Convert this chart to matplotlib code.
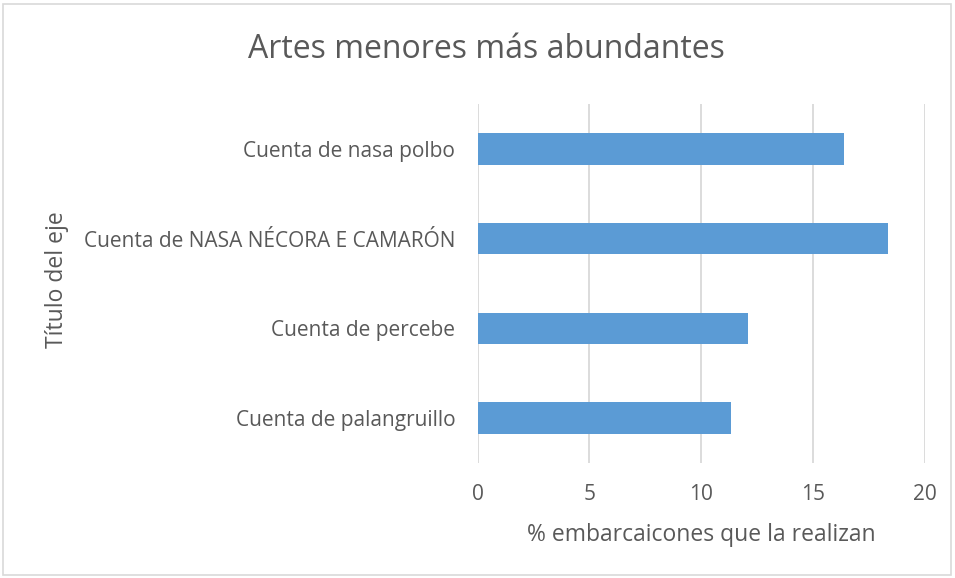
import matplotlib
matplotlib.use("Agg")
import matplotlib.pyplot as plt
from matplotlib.patches import Rectangle

categories = ["Cuenta de palangruillo", "Cuenta de percebe",
              "Cuenta de NASA NÉCORA E CAMARÓN", "Cuenta de nasa polbo"]
values = [11.34, 12.12, 18.37, 16.40]
xticks = [0, 5, 10, 15, 20]

plt.rcParams['font.family'] = ['Open Sans', 'DejaVu Sans']
txt = '#595959'

fig = plt.figure(figsize=(9.55, 5.78), dpi=100)
W, H = 955, 578
x0, x1, y0, y1 = 477.5, 924.5, 104, 463
ax = fig.add_axes([x0 / W, 1 - y1 / H, (x1 - x0) / W, (y1 - y0) / H])

ax.barh(range(len(categories)), values, height=0.35, color='#5B9BD5', zorder=3)
ax.set_xlim(0, 20)
ax.set_ylim(-0.5, len(categories) - 0.5)
ax.set_xticks(xticks)
ax.set_xticklabels([str(t) for t in xticks])
ax.set_yticks(range(len(categories)))
ax.set_yticklabels(categories)
ax.grid(axis='x', color='#D9D9D9', linewidth=1.3, zorder=0)
for s in ax.spines.values():
    s.set_visible(False)
ax.tick_params(axis='both', length=0, colors=txt, labelsize=15)
ax.tick_params(axis='x', pad=15)
ax.tick_params(axis='y', pad=16)

ax.set_xlabel("% embarcaicones que la realizan", color=txt, fontsize=16.5, va='center')
ax.xaxis.set_label_coords(0.5, (y1 - 535) / (y1 - y0))
ax.set_ylabel("Título del eje", color=txt, fontsize=16.5, va='center')
ax.yaxis.set_label_coords((57 - x0) / (x1 - x0), (y1 - 280) / (y1 - y0))

fig.text(486 / W, 1 - 50 / H, "Artes menores más abundantes", ha='center', va='center',
         color=txt, fontsize=23)

fig.patches.append(Rectangle((3 / W, 3 / H), (W - 7) / W, (H - 7) / H, transform=fig.transFigure,
                             fill=False, edgecolor='#D9D9D9', linewidth=1.2))

fig.savefig("out.png", dpi=100)
